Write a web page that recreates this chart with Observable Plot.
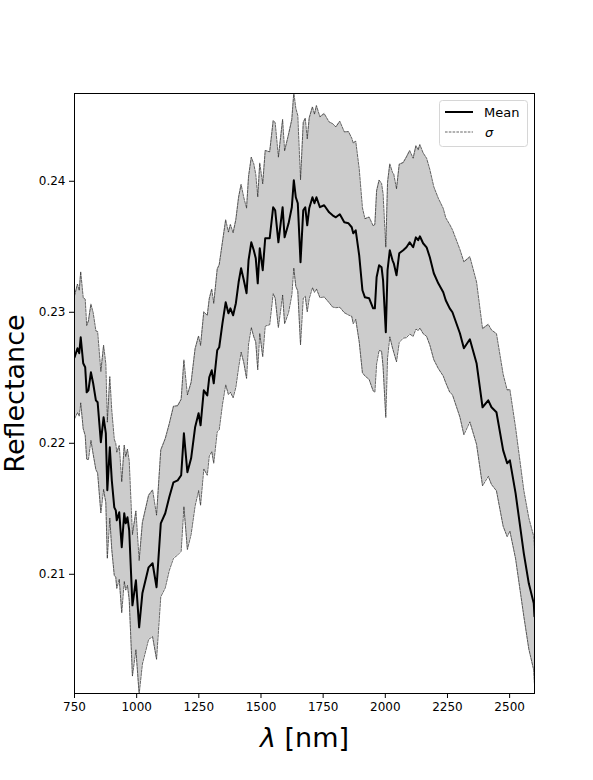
<!DOCTYPE html>
<html>
<head>
<meta charset="utf-8">
<script src="https://cdn.jsdelivr.net/npm/d3@7"></script>
<script src="https://cdn.jsdelivr.net/npm/@observablehq/plot@0.6"></script>
<style>
  html, body { margin: 0; padding: 0; background: white; }
  #chart { width: 593px; height: 780px; }
</style>
</head>
<body>
<div id="chart"></div>
<script>
// Wavelength samples (nm)
const wavelength = [
  750, 762, 769, 775, 785, 793, 799, 806, 816, 825, 836, 843,
  856, 867, 876, 882, 892, 900, 910, 916, 920, 930, 940, 950, 956, 963, 970,
  983, 997, 1010, 1023, 1048, 1064, 1080,
  1097, 1115, 1131, 1148, 1165, 1179,
  1190, 1204, 1219, 1235, 1249, 1257, 1270, 1284, 1292, 1302, 1310, 1324, 1332,
  1345, 1358, 1369, 1377, 1388, 1399, 1410, 1420, 1431, 1442, 1450, 1461, 1471, 1479, 1487, 1495, 1507, 1517, 1535,
  1549, 1557, 1570, 1587, 1595, 1611, 1624, 1632, 1640, 1648,
  1659, 1670, 1678, 1686, 1694, 1707, 1715, 1723, 1737, 1754, 1774, 1788, 1801, 1817, 1835, 1852, 1865, 1871, 1881,
  1895, 1908, 1918, 1935, 1951, 1958, 1965, 1975, 1985, 1991, 2002, 2009, 2018, 2029, 2034, 2045,
  2056, 2072, 2085, 2098, 2112, 2123, 2132, 2139, 2152, 2166, 2179, 2195, 2213, 2233, 2243, 2259, 2270,
  2300, 2316, 2340, 2367, 2391, 2414, 2427, 2447,
  2474, 2490, 2501, 2524, 2557, 2577, 2597, 2600
];

// Mean reflectance
const meanReflectance = [
  0.22656, 0.22725, 0.22687, 0.22809, 0.22611, 0.22580, 0.22389, 0.22404, 0.22542, 0.22458, 0.22328, 0.22313,
  0.22008, 0.22198, 0.22076, 0.21641, 0.21969, 0.21717, 0.21511, 0.21488, 0.21412, 0.21473, 0.21206, 0.21466, 0.21389, 0.21435, 0.21336,
  0.20763, 0.20954, 0.20595, 0.20855, 0.21053, 0.21084, 0.20901,
  0.21389, 0.21466, 0.21588, 0.21702, 0.21717, 0.21756,
  0.22076, 0.21779, 0.21885, 0.22122, 0.22229, 0.22137, 0.22404, 0.22366, 0.22504, 0.22557, 0.22458, 0.22710, 0.22733,
  0.22916, 0.23076, 0.22992, 0.23030, 0.22977, 0.23069, 0.23229, 0.23336, 0.23244, 0.23145, 0.23397, 0.23534, 0.23473, 0.23412, 0.23221, 0.23489, 0.23321, 0.23565, 0.23565,
  0.23802, 0.23779, 0.23534, 0.23802, 0.23572, 0.23679, 0.23802, 0.24008, 0.23878, 0.23832,
  0.23382, 0.23779, 0.23802, 0.23664, 0.23794, 0.23878, 0.23832, 0.23878, 0.23802, 0.23817, 0.23763, 0.23740, 0.23725, 0.23748, 0.23687, 0.23679, 0.23649, 0.23603, 0.23626,
  0.23435, 0.23168, 0.23114, 0.23107, 0.23030, 0.23030, 0.23267, 0.23359, 0.23343, 0.23244, 0.22847, 0.23321, 0.23473, 0.23397, 0.23374, 0.23282,
  0.23450, 0.23473, 0.23496, 0.23534, 0.23496, 0.23572, 0.23550, 0.23580, 0.23527, 0.23496, 0.23420, 0.23298, 0.23221, 0.23153, 0.23092, 0.23030, 0.23000,
  0.22840, 0.22725, 0.22794, 0.22611, 0.22275, 0.22328, 0.22275, 0.22237,
  0.21946, 0.21847, 0.21870, 0.21618, 0.21160, 0.20931, 0.20778, 0.20679
];

// Standard deviation (sigma)
const sigma = [
  0.0047, 0.0049, 0.0048, 0.0050, 0.0050, 0.0052, 0.0051, 0.0053, 0.0052, 0.0054, 0.0053, 0.0054,
  0.0054, 0.0055, 0.0053, 0.0052, 0.0054, 0.0053, 0.0052, 0.0051, 0.0052, 0.0051, 0.0050, 0.0052, 0.0051, 0.0052, 0.0053,
  0.0054, 0.0053, 0.0051, 0.0054, 0.0055, 0.0056, 0.0055,
  0.0056, 0.0057, 0.0056, 0.0058, 0.0057, 0.0058,
  0.0056, 0.0059, 0.0058, 0.0060, 0.0059, 0.0061, 0.0060, 0.0061, 0.0060, 0.0062, 0.0061, 0.0062, 0.0063,
  0.0062, 0.0063, 0.0062, 0.0064, 0.0063, 0.0064, 0.0065, 0.0064, 0.0063, 0.0065, 0.0064, 0.0065, 0.0066, 0.0064, 0.0066, 0.0065, 0.0066, 0.0067, 0.0066,
  0.0066, 0.0067, 0.0065, 0.0067, 0.0066, 0.0068, 0.0067, 0.0067, 0.0068, 0.0067,
  0.0063, 0.0067, 0.0068, 0.0066, 0.0069, 0.0069, 0.0068, 0.0070, 0.0069, 0.0070, 0.0069, 0.0070, 0.0069, 0.0071, 0.0069, 0.0070, 0.0068, 0.0069, 0.0068,
  0.0066, 0.0063, 0.0060, 0.0062, 0.0063, 0.0064, 0.0066, 0.0065, 0.0064, 0.0066, 0.0065, 0.0067, 0.0066, 0.0067, 0.0068, 0.0066,
  0.0068, 0.0067, 0.0069, 0.0070, 0.0068, 0.0070, 0.0069, 0.0070, 0.0069, 0.0068, 0.0067, 0.0066, 0.0065, 0.0064, 0.0063, 0.0064, 0.0063,
  0.0064, 0.0066, 0.0063, 0.0062, 0.0060, 0.0058, 0.0059, 0.0060,
  0.0058, 0.0056, 0.0054, 0.0050, 0.0048, 0.0050, 0.0051, 0.0052
];

const xTicks = [750, 1000, 1250, 1500, 1750, 2000, 2250, 2500];
const yTicks = [0.21, 0.22, 0.23, 0.24];
const yDomain = [0.2009, 0.2467];
const xDomain = [750, 2600];

const rows = wavelength.map((w, i) => ({
  w,
  m: meanReflectance[i],
  lo: meanReflectance[i] - sigma[i],
  hi: meanReflectance[i] + sigma[i]
}));

const edgeStyle = {stroke: "#222", strokeWidth: 0.7, strokeDasharray: "2.6,1.2", clip: true};

const chart = Plot.plot({
  width: 593,
  height: 780,
  marginLeft: 74,
  marginRight: 59,
  marginTop: 93,
  marginBottom: 87,
  style: {fontFamily: "DejaVu Sans, sans-serif", fontSize: "12px", color: "black", background: "white"},
  x: {domain: xDomain, label: null},
  y: {domain: yDomain, label: null},
  marks: [
    Plot.areaY(rows, {x: "w", y1: "lo", y2: "hi", fill: "#cccccc", clip: true}),
    Plot.lineY(rows, {x: "w", y: "hi", ...edgeStyle}),
    Plot.lineY(rows, {x: "w", y: "lo", ...edgeStyle}),
    Plot.lineY(rows, {x: "w", y: "m", stroke: "black", strokeWidth: 2, clip: true}),
    Plot.frame({stroke: "black", strokeWidth: 1}),
    Plot.axisX({ticks: xTicks, tickFormat: d => String(d), tickSize: 5, tickPadding: 4, label: null, fontSize: 12}),
    Plot.axisY({ticks: yTicks, tickFormat: d => d.toFixed(2), tickSize: 5, tickPadding: 4, label: null, fontSize: 12}),
    Plot.text(["Reflectance"], {frameAnchor: "left", dx: -59, rotate: -90, fontSize: 27, textAnchor: "middle", lineAnchor: "middle", text: d => d}),
    Plot.text(["λ [nm]"], {frameAnchor: "bottom", dy: 45, fontSize: 27, textAnchor: "middle", lineAnchor: "middle", text: d => d})
  ]
});

document.getElementById("chart").appendChild(chart);

// italic lambda in x label
const svg = d3.select(chart);
svg.selectAll("text").each(function() {
  const t = d3.select(this);
  if (t.text() === "λ [nm]") {
    t.text(null);
    t.append("tspan").attr("font-style", "italic").text("λ");
    t.append("tspan").text(" [nm]");
  }
});

// Legend (upper right, inside the frame)
const lg = svg.append("g")
  .attr("font-family", "DejaVu Sans, sans-serif")
  .attr("font-size", 13)
  .attr("text-anchor", "start");
lg.append("rect").attr("x", 439.5).attr("y", 100.5).attr("width", 88).attr("height", 46)
  .attr("rx", 3).attr("fill", "white").attr("stroke", "#d6d6d6").attr("stroke-width", 1);
lg.append("line").attr("x1", 445).attr("x2", 473).attr("y1", 112).attr("y2", 112)
  .attr("stroke", "black").attr("stroke-width", 2);
lg.append("text").attr("x", 484).attr("y", 112).attr("dy", "0.35em").attr("text-anchor", "start")
  .attr("fill", "black").text("Mean");
lg.append("line").attr("x1", 445).attr("x2", 473).attr("y1", 132).attr("y2", 132)
  .attr("stroke", "#222").attr("stroke-width", 0.7).attr("stroke-dasharray", "2.6,1.2");
lg.append("text").attr("x", 485).attr("y", 132).attr("dy", "0.35em").attr("text-anchor", "start")
  .attr("fill", "black").attr("font-style", "italic").text("σ");
</script>
</body>
</html>
